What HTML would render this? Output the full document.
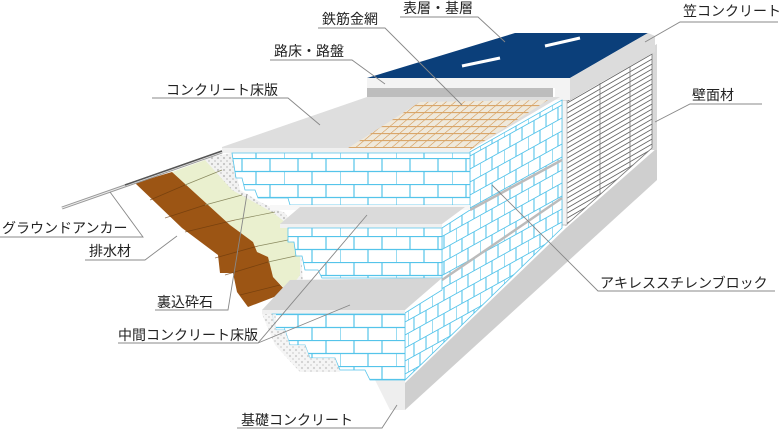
<!DOCTYPE html>
<html><head><meta charset="utf-8"><style>
html,body{margin:0;padding:0;background:#fff;}
svg{display:block;}
text{font-family:"Liberation Sans","Noto Sans CJK JP",sans-serif;font-size:14px;fill:#222;}
</style></head><body>
<svg width="780" height="432" viewBox="0 0 780 432" xmlns="http://www.w3.org/2000/svg">
<defs>
<pattern id="bf" width="56" height="26" patternUnits="userSpaceOnUse" x="4" y="2">
<rect width="56" height="26" fill="#fff"/>
<path d="M0 .5H56M0 13.5H56M14 0V13M42 0V13M0 13V26M28 13V26" stroke="#55c4ea" stroke-width="1.2" fill="none"/>
</pattern>
<pattern id="br" width="24" height="26" patternUnits="userSpaceOnUse" patternTransform="skewY(-29)">
<rect width="24" height="26" fill="#fff"/>
<path d="M0 .5H24M0 13.5H24M6 0V13M18 0V13M0 13V26M12 13V26" stroke="#55c4ea" stroke-width="1.1" fill="none"/>
</pattern>
<pattern id="hatch" width="90" height="5" patternUnits="userSpaceOnUse" patternTransform="skewY(-30)">
<rect width="90" height="5" fill="#fff"/><path d="M0 .5H90" stroke="#666" stroke-width="0.9"/>
</pattern>
<pattern id="mesh" width="9" height="7" patternUnits="userSpaceOnUse" patternTransform="skewX(-50)">
<rect width="9" height="7" fill="#efe9dc"/><path d="M0 .5H9M.5 0V7" stroke="#d9a66a" stroke-width="1.2"/>
</pattern>
<pattern id="dots" width="6" height="6" patternUnits="userSpaceOnUse">
<rect width="6" height="6" fill="#f2f2f2"/><circle cx="2" cy="2" r="1.1" fill="#c4c4c4"/><circle cx="5" cy="5" r="1" fill="#d0d0d0"/>
</pattern>
</defs>

<!-- foundation side -->
<polygon points="405,383 566,228 657,148 657,180 405,410" fill="#cfcfcf"/>
<polygon points="650,48 657,44 657,150 650,150" fill="#d8d8d8"/>
<polygon points="375,380 405,380 405,410 390,410" fill="#eeeeee"/>

<!-- right wall panel -->
<polygon points="566,102 652,52 652,148 566,225" fill="url(#hatch)" stroke="#777" stroke-width="0.8"/>
<line x1="600" y1="83" x2="600" y2="195" stroke="#777" stroke-width="0.8"/>
<line x1="630" y1="66" x2="630" y2="168" stroke="#777" stroke-width="0.8"/>
<rect x="562" y="100" width="5" height="125" fill="#f4f4f4" stroke="#999" stroke-width="0.6"/>

<!-- cap -->
<polygon points="515,33 648,33 570,78 367,78" fill="#0b3f7a"/>
<line x1="462" y1="66" x2="500" y2="58" stroke="#fff" stroke-width="3"/>
<line x1="545" y1="46" x2="580" y2="38" stroke="#fff" stroke-width="3"/>
<polygon points="570,78 648,33 655,36 655,52 570,100" fill="#dcdcdc"/>
<polygon points="367,78 570,78 570,100 555,100 555,88 367,88" fill="#f3f3f3"/>
<polygon points="367,88 553,88 553,97 367,97" fill="#bdbdbd"/>

<!-- top slab -->
<polygon points="222,147 367,97 560,97 470,150 222,152" fill="#dedede"/>
<polygon points="345,150 420,102 548,100 470,150" fill="url(#mesh)"/>
<rect x="222" y="148" width="248" height="5" fill="#f0f0f0"/>

<!-- right brick face -->
<polygon points="470,152 562,100 562,228 405,380 405,313 442,290 442,228 470,210" fill="url(#br)" stroke="#55c4ea" stroke-width="0.8"/>
<line x1="470" y1="210" x2="562" y2="160" stroke="#bbb" stroke-width="2.5"/>
<line x1="442" y1="280" x2="562" y2="198" stroke="#bbb" stroke-width="2.5"/>

<!-- soil -->
<polygon points="203,158 232,153 240,190 262,203 285,213 300,235 303,285 288,293 260,257 232,225 212,195" fill="url(#dots)"/>
<polygon points="172,172 205,160 232,190 272,212 285,222 300,245 300,275 288,292 273,277 268,257 257,252 253,242 230,225" fill="#eaf0cf"/>
<polygon points="135,183 172,172 230,225 253,242 257,252 268,257 273,277 287,292 248,307 237,292 233,273 220,273 218,255 182,228" fill="#9c5514"/>
<g stroke="#6b3a0c" stroke-width="0.8" opacity="0.7">
<line x1="150" y1="200" x2="185" y2="185"/><line x1="165" y1="218" x2="205" y2="205"/><line x1="185" y1="232" x2="235" y2="220"/><line x1="215" y1="258" x2="258" y2="246"/><line x1="225" y1="275" x2="268" y2="262"/><line x1="240" y1="295" x2="280" y2="285"/>
</g>
<g stroke="#8a8a60" stroke-width="0.7">
<line x1="185" y1="185" x2="222" y2="170"/><line x1="205" y1="205" x2="242" y2="195"/><line x1="235" y1="220" x2="275" y2="212"/><line x1="258" y1="246" x2="298" y2="238"/><line x1="268" y1="262" x2="300" y2="255"/>
</g>

<!-- top bricks front -->
<polygon points="232,153 470,153 470,205 290,205 288,198 258,198 255,190 245,190 242,178 236,178" fill="url(#bf)" stroke="#55c4ea" stroke-width="0.8"/>
<rect x="270" y="205" width="200" height="5" fill="#f7f7f7"/>

<!-- middle slab -->
<polygon points="280,224 300,207 465,207 442,224" fill="#dadada"/>
<rect x="280" y="224" width="162" height="4" fill="#f0f0f0"/>
<polygon points="288,228 442,228 442,278 322,278 318,270 305,270 302,256 296,256 294,242 288,242" fill="url(#bf)" stroke="#55c4ea" stroke-width="0.8"/>

<!-- lower slab -->
<polygon points="262,310 290,280 442,278 405,310" fill="#d6d6d6"/>
<rect x="262" y="310" width="143" height="4" fill="#f0f0f0"/>
<polygon points="272,314 405,314 405,380 370,380 365,370 340,370 335,358 310,358 305,345 290,345 285,330 276,330" fill="url(#bf)" stroke="#55c4ea" stroke-width="0.8"/>
<polygon points="262,314 276,314 276,330 285,330 290,345 305,345 310,358 335,358 340,372 300,372 275,345" fill="url(#dots)" opacity="0.8"/>

<!-- anchor -->
<line x1="62" y1="208" x2="222" y2="152" stroke="#999" stroke-width="3"/>
<line x1="62" y1="208" x2="222" y2="152" stroke="#eee" stroke-width="1"/>
<line x1="125" y1="185" x2="222" y2="151" stroke="#555" stroke-width="1.5"/>

<!-- leaders -->
<g stroke="#888" stroke-width="0.9" fill="none">
<polyline points="318,28 385,28 462,105"/>
<polyline points="400,17 478,17 505,42"/>
<polyline points="778,22 680,22 645,42"/>
<polyline points="270,60 352,60 385,84"/>
<polyline points="152,98 288,98 320,125"/>
<polyline points="762,104 690,104 655,122"/>
<polyline points="0,237 143,237 110,192"/>
<polyline points="85,260 145,260 177,236"/>
<polyline points="775,291 598,291 492,185"/>
<polyline points="155,310 228,310 247,194"/>
<polyline points="118,343 258,343 367,215"/>
<polyline points="258,343 350,305"/>
<polyline points="237,428 382,428 397,405"/>
</g>

<!-- labels -->
<text x="322" y="24">鉄筋金網</text>
<text x="403" y="13">表層・基層</text>
<text x="683" y="16">笠コンクリート</text>
<text x="274" y="56">路床・路盤</text>
<text x="166" y="95">コンクリート床版</text>
<text x="692" y="100">壁面材</text>
<text x="2" y="233">グラウンドアンカー</text>
<text x="89" y="256">排水材</text>
<text x="600" y="288">アキレススチレンブロック</text>
<text x="157" y="307">裏込砕石</text>
<text x="118" y="340">中間コンクリート床版</text>
<text x="241" y="425">基礎コンクリート</text>
</svg>
</body></html>
